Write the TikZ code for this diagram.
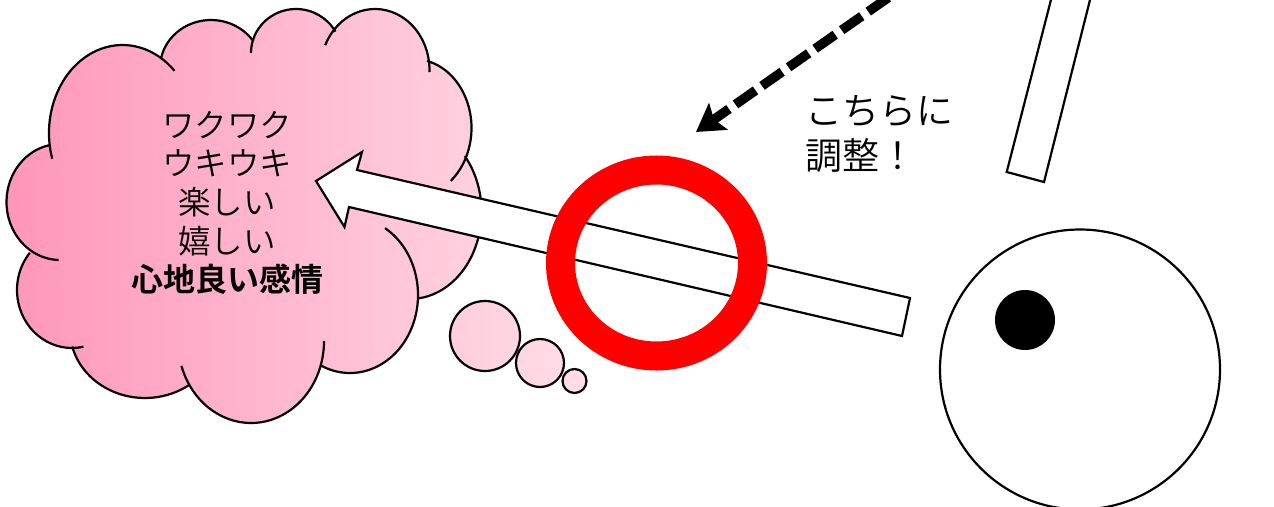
\documentclass[tikz,border=0pt]{standalone}
\usepackage{fontspec}
\setmainfont{Noto Sans CJK JP}[UprightFont={* DemiLight}]
\usetikzlibrary{
    arrows.meta
}
\definecolor{printPinkL}{RGB}{255, 150, 185}
\definecolor{printPinkR}{RGB}{255, 222, 232}
\definecolor{printRing}{RGB}{255, 0, 0}

% center x, center y, x radius, y radius, start angle, end angle
\newcommand{\lobe}[6]{([shift={(#1,#2)}]#5:#3 and #4) arc[start angle=#5, end angle=#6, x radius=#3, y radius=#4]}
\newcommand{\cloudlobes}{
    \lobe{122.5}{133}{73.5}{88}{163}{315}
    \lobe{211}{68}{51}{48}{193}{326.5}
    \lobe{296}{53}{45}{44}{180}{331}
    \lobe{375}{70}{54.5}{61}{204}{362}
    \lobe{413.5}{128}{58}{69}{283.5}{410}
    \lobe{410}{212}{71.5}{87}{-40}{83.5}
    \lobe{350}{295}{68}{78}{-59}{115}
    \lobe{251}{341}{73}{82}{0}{162.4}
    \lobe{145}{330}{75}{68}{54}{166}
    \lobe{72}{290}{55}{58}{78}{220}
    \lobe{60}{202}{53.5}{58}{91.5}{259}
}

\begin{document}
\begin{tikzpicture}[x=1pt, y=-1pt, line width=2.2pt]
        \clip (0, 0) rectangle (1274, 506);

        \coordinate (Tip) at (316, 181);
        \coordinate (Ring) at (656.5, 263);
        \coordinate (Eye) at (1080, 369.5);
        \coordinate (Pupil) at (1025, 320);

        % Cloud body and the three small bubbles share one gradient
        \path[left color=printPinkL, right color=printPinkR]
            \cloudlobes
            (50,147) -- (120,80) -- (161,57) -- (210,40) -- (252,42) -- (295,25) -- (335,32)
            -- (380,30) -- (427,61) -- (455,110) -- (465,155) -- (460,230) -- (418,297)
            -- (390,340) -- (321,361) -- (250,400) -- (188,384) -- (140,380) -- (71,347)
            -- (35,300) -- (30,252) -- (20,200) -- cycle
            (485, 336) circle (35)
            (540, 363) circle (24)
            (574.5, 381) circle (12);

        % Cloud outline
        \draw \cloudlobes;

        % Bubbles
        \draw (485, 336) circle (35);
        \draw (540, 363) circle (24);
        \draw (574.5, 381) circle (12);

        % Cloud text
        \node[align=center, font=\fontsize{32.5}{38.7}\selectfont] (Feeling) at (227, 203)
            {ワクワク\\ウキウキ\\楽しい\\嬉しい\\{\fontsize{32}{38.7}\selectfont\bfseries 心地良い感情}};

        % Wide arrow into the cloud
        \draw[fill=white, line join=miter] (Tip) -- (362, 152) -- (357, 170) -- (910, 298)
            -- (902, 336) -- (349, 207) -- (344.5, 227) -- cycle;

        % Ring over the arrow
        \draw[printRing, line width=29] (Ring) ellipse (96 and 93);

        % Dashed direction
        \coordinate (DashTip) at (696, 132);
        \coordinate (DashEnd) at (892, -5);
        \draw[-{Stealth[length=27, width=32, inset=5]}, line width=9.5,
              dash pattern=on 24.5 off 7.9, dash phase=27.9] (DashEnd) -- (DashTip);

        \node[anchor=west, align=left, font=\fontsize{37}{45}\selectfont] (Adjust) at (801, 134)
            {こちらに\\調整！};

        % Bar at the top
        \draw[fill=white] (1006.7, 172) -- (1044, 182) -- (1092.5, -10) -- (1053.5, -10) -- cycle;

        % Eye
        \draw[fill=white] (Eye) circle (140);
        \fill (Pupil) circle (30);
    \end{tikzpicture}
\end{document}
